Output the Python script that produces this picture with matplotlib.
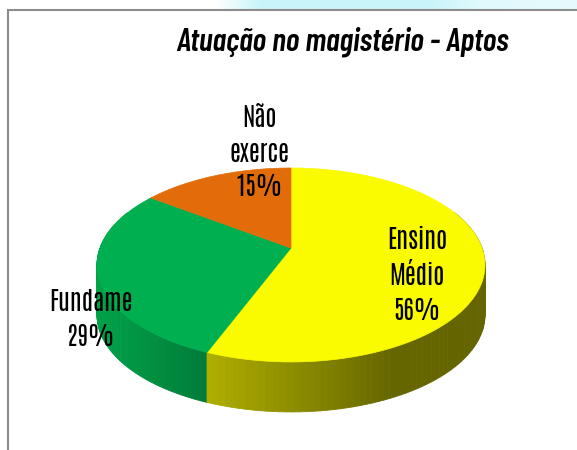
import numpy as np
import matplotlib.pyplot as plt
from matplotlib.patches import Polygon, Rectangle
from matplotlib.colors import to_rgb

# dados do grafico
values = [56, 29, 15]
labels = ['Ensino\nMédio', 'Fundame', 'Não\nexerce']
colors = ['#FAFA00', '#00B050', '#E36C0A']
title = 'Atuação no magistério - Aptos'

# geometria da pizza 3D (pixels)
cx, cy = 291, 248
A, B, k = 191, 94, 0.175
depth = 50
label_pos = [(417, 275), (91, 319), (259, 152)]

LABEL_FONT = ['Antonio', 'Oswald', 'Liberation Sans Narrow', 'DejaVu Sans']
TITLE_FONT = ['Barlow Condensed', 'Fira Sans Condensed', 'Liberation Sans Narrow', 'DejaVu Sans']


def proj(theta):
    u = np.sin(theta)
    v = -np.cos(theta)
    f = 1.0 / (1.0 - k * v)
    return cx + A * u * f, cy + B * v * f, v


def shade(x):
    return np.interp(x, [98, 213, 390, 490], [0.92, 0.69, 0.41, 0.40])


fig = plt.figure(figsize=(5.77, 4.5), dpi=100)
ax = fig.add_axes([0, 0, 1, 1])
ax.set_xlim(0, 577)
ax.set_ylim(450, 0)
ax.axis('off')

# faixa azul clara no topo
xs = np.linspace(150, 577, 200)
alpha = np.interp(xs, [150, 215, 260, 430, 480, 577], [0, 0, 1, 1, 0.55, 0.45])
strip = np.zeros((1, len(xs), 4))
strip[..., 0] = 200 / 255
strip[..., 1] = 245 / 255
strip[..., 2] = 250 / 255
strip[..., 3] = alpha
ax.imshow(strip, extent=[150, 577, 9, 0], aspect='auto', zorder=0)

# moldura
ax.add_patch(Rectangle((8, 10), 620, 470, facecolor='white', edgecolor='#8c8c8c',
                       lw=1.5, zorder=1))

fracs = np.array(values) / np.sum(values)
bounds = np.concatenate([[0], np.cumsum(fracs)]) * 2 * np.pi

# lateral
segs = []
for i in range(len(values)):
    th = np.linspace(bounds[i], bounds[i + 1], 120)
    px, py, pv = proj(th)
    base = np.array(to_rgb(colors[i]))
    for j in range(len(th) - 1):
        vm = (pv[j] + pv[j + 1]) / 2
        if vm < -0.4:
            continue
        xm = (px[j] + px[j + 1]) / 2
        c = np.clip(base * shade(xm), 0, 1)
        quad = [(px[j], py[j]), (px[j + 1], py[j + 1]),
                (px[j + 1], py[j + 1] + depth), (px[j], py[j] + depth)]
        segs.append((vm, quad, c))
segs.sort(key=lambda s: s[0])
for vm, quad, c in segs:
    ax.add_patch(Polygon(quad, closed=True, facecolor=c, edgecolor=c, lw=0.6, zorder=2))

# topo
for i in range(len(values)):
    th = np.linspace(bounds[i], bounds[i + 1], 200)
    px, py, pv = proj(th)
    pts = [(cx, cy)] + list(zip(px, py))
    ax.add_patch(Polygon(pts, closed=True, facecolor=colors[i], edgecolor=colors[i],
                         lw=0.5, zorder=3))

# rotulos
for lab, val, (lx, ly) in zip(labels, values, label_pos):
    ax.text(lx, ly, '%s\n%d%%' % (lab, val), ha='center', va='center',
            fontsize=18, fontweight='bold', family=LABEL_FONT, linespacing=1.45, zorder=5)

ax.text(342, 42, title, ha='center', va='center', fontsize=23, fontweight='semibold',
        style='italic', family=TITLE_FONT, zorder=5)

fig.savefig('out.png', dpi=100)
